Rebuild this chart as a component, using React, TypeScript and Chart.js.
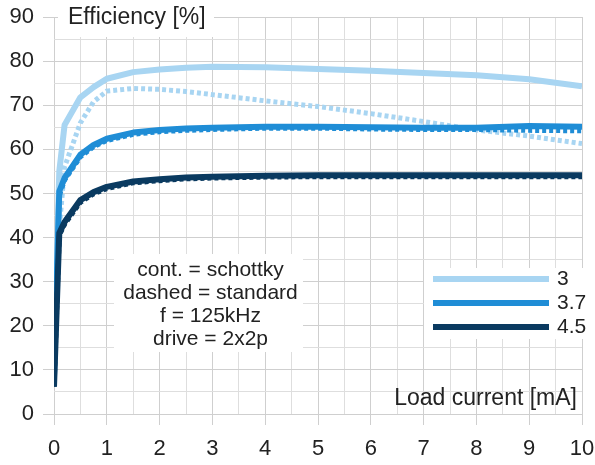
import React, { useEffect, useRef } from 'react';
import { Chart, registerables } from 'chart.js';

Chart.register(...registerables);

// ---- data ----
const loadCurrent = [0, 0.1, 0.2, 0.5, 0.75, 1, 1.5, 2, 2.5, 3, 4, 5, 6, 7, 8, 9, 10];

const eff3Schottky = [11, 55, 65.5, 71.8, 74.1, 76, 77.5, 78.1, 78.5, 78.7, 78.6, 78.2, 77.8, 77.3, 76.8, 75.9, 74.3];
const eff3Standard = [11, 42, 56, 66, 70.8, 73.2, 73.8, 73.6, 73.1, 72.4, 71, 69.7, 68.1, 66.3, 64.4, 63, 61.3];
const eff37Schottky = [8.5, 50.5, 53.5, 58.8, 61, 62.4, 63.8, 64.4, 64.7, 64.9, 65.1, 65.1, 65, 64.9, 64.9, 65.3, 65.1];
const eff37Standard = [8.5, 49.5, 53, 58.3, 60.6, 62, 63.4, 64, 64.3, 64.5, 64.8, 64.8, 64.6, 64.5, 64.5, 64.3, 64.2];
const eff45Schottky = [6.2, 41, 43.5, 48.5, 50.3, 51.5, 52.7, 53.2, 53.6, 53.8, 54, 54.1, 54.1, 54.1, 54.1, 54.1, 54.1];
const eff45Standard = [6.2, 40.5, 43, 48, 49.9, 51.1, 52.4, 52.9, 53.3, 53.5, 53.7, 53.8, 53.8, 53.8, 53.8, 53.8, 53.8];

const seriesLabels = ['3', '3.7', '4.5'];
const seriesColors = ['#a8d5f2', '#1f8dd6', '#0a3a60'];

const yAxisMin = 0;
const yAxisMax = 90;
const yMajorStep = 10;
const yMinorStep = 5;
const xAxisMin = 0;
const xAxisMax = 10;
const xMajorStep = 1;
const xMinorStep = 0.5;

const yTitle = 'Efficiency [%]';
const xTitle = 'Load current [mA]';
const noteLines = ['cont. = schottky', 'dashed = standard', 'f = 125kHz', 'drive = 2x2p'];

const FONT = '"Liberation Sans", Arial, sans-serif';
const TEXT = '#222222';
const GRID_MAJOR = '#cfcfcf';
const GRID_MINOR = '#dedede';

const isMult = (v: number, step: number) => Math.abs(v / step - Math.round(v / step)) < 1e-6;

const toPoints = (ys: number[]) => ys.map((y, i) => ({ x: loadCurrent[i], y }));

const overlayPlugin = {
  id: 'overlay',
  afterDatasetsDraw(chart: any) {
    const { ctx } = chart;
    ctx.save();
    ctx.textBaseline = 'middle';

    // y title with white backing
    ctx.font = `23px ${FONT}`;
    ctx.fillStyle = '#ffffff';
    ctx.fillRect(58, 0, 156, 37);
    ctx.fillStyle = TEXT;
    ctx.textAlign = 'left';
    ctx.fillText(yTitle, 68, 17.5);

    // x title
    ctx.textAlign = 'right';
    ctx.fillText(xTitle, 577, 398.5);

    // note box
    ctx.font = `21px ${FONT}`;
    ctx.fillStyle = '#ffffff';
    ctx.fillRect(114, 254, 189, 98);
    ctx.fillStyle = TEXT;
    ctx.textAlign = 'center';
    noteLines.forEach((t, i) => {
      ctx.fillText(t, 210.5, 270 + i * 23.2);
    });

    // legend box
    ctx.fillStyle = '#ffffff';
    ctx.fillRect(424, 268, 171, 71);
    ctx.textAlign = 'left';
    seriesLabels.forEach((lab, i) => {
      const y = 279 + i * 24;
      ctx.strokeStyle = seriesColors[i];
      ctx.lineWidth = 6;
      ctx.lineCap = 'butt';
      ctx.beginPath();
      ctx.moveTo(433, y);
      ctx.lineTo(549, y);
      ctx.stroke();
      ctx.fillStyle = TEXT;
      ctx.fillText(lab, 557, y + 0.5);
    });
    ctx.restore();
  },
};

export default function App() {
  const ref = useRef<HTMLCanvasElement | null>(null);

  useEffect(() => {
    document.body.style.margin = '0';
    const canvas = ref.current;
    if (!canvas) return;

    const solid = (data: number[], i: number, order: number) => ({
      label: seriesLabels[i],
      data: toPoints(data),
      borderColor: seriesColors[i],
      backgroundColor: seriesColors[i],
      borderWidth: 6,
      pointRadius: 0,
      tension: 0,
      borderJoinStyle: 'round' as const,
      borderCapStyle: 'butt' as const,
      fill: false,
      order,
    });
    const dashed = (data: number[], i: number, order: number) => ({
      label: seriesLabels[i] + ' standard',
      data: toPoints(data),
      borderColor: seriesColors[i],
      backgroundColor: seriesColors[i],
      borderWidth: 5,
      borderDash: [4, 3],
      pointRadius: 0,
      tension: 0,
      borderJoinStyle: 'miter' as const,
      borderCapStyle: 'butt' as const,
      fill: false,
      order,
    });

    const chart = new Chart(canvas, {
      type: 'line',
      data: {
        datasets: [
          solid(eff45Schottky, 2, 1),
          dashed(eff45Standard, 2, 2),
          solid(eff37Schottky, 1, 3),
          dashed(eff37Standard, 1, 4),
          dashed(eff3Standard, 0, 5),
          solid(eff3Schottky, 0, 6),
        ],
      },
      options: {
        responsive: false,
        animation: false,
        devicePixelRatio: 1,
        layout: { padding: { top: 17, right: 13, left: 0, bottom: 0 } },
        plugins: {
          legend: { display: false },
          tooltip: { enabled: false },
          title: { display: false },
        },
        scales: {
          x: {
            type: 'linear',
            min: xAxisMin,
            max: xAxisMax,
            afterFit: (s: any) => {
              s.height = 51;
              s.paddingLeft = 0;
              s.paddingRight = 0;
              s.paddingTop = 0;
              s.paddingBottom = 0;
            },
            border: { display: false },
            grid: {
              color: (c: any) => (c.tick && isMult(c.tick.value, xMajorStep) ? GRID_MAJOR : GRID_MINOR),
              tickColor: (c: any) => (c.tick && isMult(c.tick.value, xMajorStep) ? GRID_MAJOR : 'rgba(0,0,0,0)'),
              tickLength: 11,
              lineWidth: 1,
            },
            ticks: {
              stepSize: xMinorStep,
              autoSkip: false,
              maxRotation: 0,
              padding: 11,
              color: TEXT,
              font: { family: FONT, size: 22 },
              callback: (v: any) => (isMult(Number(v), xMajorStep) ? String(Math.round(Number(v))) : ''),
            },
          },
          y: {
            type: 'linear',
            min: yAxisMin,
            max: yAxisMax,
            afterFit: (s: any) => {
              s.width = 54;
              s.paddingLeft = 0;
              s.paddingRight = 0;
              s.paddingTop = 0;
              s.paddingBottom = 0;
            },
            border: { display: false },
            grid: {
              color: (c: any) => (c.tick && isMult(c.tick.value, yMajorStep) ? GRID_MAJOR : GRID_MINOR),
              tickColor: (c: any) => (c.tick && isMult(c.tick.value, yMajorStep) ? GRID_MAJOR : 'rgba(0,0,0,0)'),
              tickLength: 11,
              lineWidth: 1,
            },
            ticks: {
              stepSize: yMinorStep,
              autoSkip: false,
              padding: 9,
              color: TEXT,
              font: { family: FONT, size: 22 },
              callback: (v: any) => (isMult(Number(v), yMajorStep) ? String(Math.round(Number(v))) : ''),
            },
          },
        },
      },
      plugins: [overlayPlugin],
    } as any);

    return () => chart.destroy();
  }, []);

  return (
    <div style={{ position: 'fixed', left: 0, top: 0, width: 595, height: 465, background: '#fff' }}>
      <canvas ref={ref} width={595} height={465} style={{ display: 'block' }} />
    </div>
  );
}
